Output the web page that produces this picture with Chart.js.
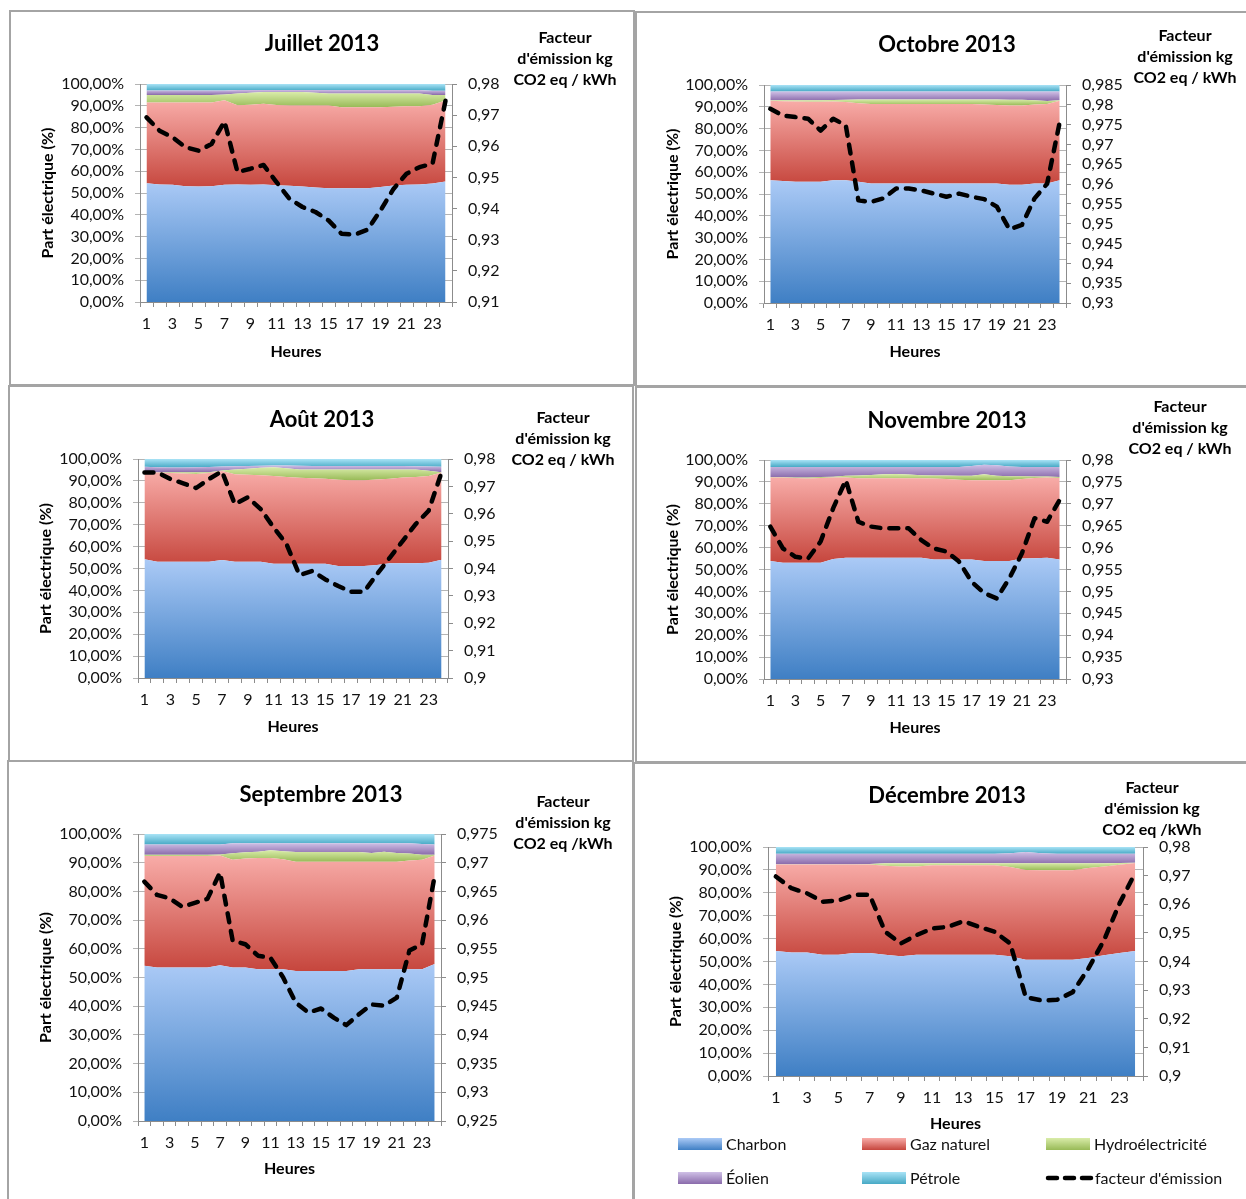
<!DOCTYPE html>
<html lang="fr">
<head>
<meta charset="utf-8">
<title>Part électrique et facteur d'émission horaire 2013</title>
<script src="https://cdn.jsdelivr.net/npm/chart.js@4.4.1/dist/chart.umd.min.js"></script>
<style>
  html, body { margin: 0; padding: 0; background: #fff; }
  body { width: 1246px; height: 1199px; position: relative; overflow: hidden; }
  .panel { position: absolute; box-sizing: border-box; border: 2px solid #a4a4a4; background: #fff; }
  .panel canvas { position: absolute; left: 0; top: 0; }
</style>
</head>
<body>
<script>
const FONT = "Lato, 'Open Sans', sans-serif";
const TEXT = '#111';
const AXIS = '#8c8c8c';
const GRID = '#b4b4b4';

const HEURES = ['1','2','3','4','5','6','7','8','9','10','11','12','13','14','15','16','17','18','19','20','21','22','23','24'];
const SOURCES = ['Charbon', 'Gaz naturel', 'Hydroélectricité', 'Éolien', 'Pétrole'];
const FACTEUR_LABEL = "facteur d'émission";

// [light, dark] gradient stops for each source
const SOURCE_COLORS = [
  ['#abcaf6', '#3f7fc4'],
  ['#f8aca8', '#c6463d'],
  ['#d9eca9', '#98ba57'],
  ['#cfc0e6', '#8a6bab'],
  ['#a9e3f6', '#47a9c5'],
];

// Juillet 2013 (%)
const julCharbon  = [54.5,53.9,53.8,53.1,53.0,53.1,53.8,53.9,53.8,53.9,53.6,53.3,53.0,52.5,52.2,52.2,52.2,52.2,52.7,53.4,53.8,53.9,54.4,55.3];
const julGaz      = [37.0,37.6,37.7,38.4,38.5,38.4,38.7,36.4,36.7,37.0,36.8,36.8,37.1,37.6,37.9,37.1,37.1,37.1,36.6,36.2,36.0,35.9,36.1,37.1];
const julHydro    = [3.5,3.5,3.5,3.5,3.5,3.5,2.7,5.3,5.5,5.4,5.9,6.2,6.2,5.9,5.5,6.3,6.3,6.3,6.3,6.0,5.8,5.8,4.5,2.6];
const julEolien   = [2.0,2.0,2.0,2.0,2.0,2.0,1.8,1.7,1.3,1.0,1.0,1.0,1.0,1.3,1.7,1.7,1.7,1.7,1.7,1.7,1.7,1.7,1.9,1.9];
const julPetrole  = [3.0,3.0,3.0,3.0,3.0,3.0,3.0,2.7,2.7,2.7,2.7,2.7,2.7,2.7,2.7,2.7,2.7,2.7,2.7,2.7,2.7,2.7,3.1,3.1];
const julFacteur  = [0.9693,0.9650,0.9629,0.9597,0.9586,0.9607,0.9680,0.9517,0.9528,0.9540,0.9485,0.9431,0.9405,0.9389,0.9362,0.9319,0.9316,0.9332,0.9394,0.9463,0.9512,0.9533,0.9544,0.9746];
const julAxe      = [0.91, 0.98, 0.01];

// Octobre 2013
const octCharbon  = [56.3,56.0,55.6,55.6,55.6,56.3,56.3,55.6,54.8,54.8,54.8,54.8,54.8,54.8,54.8,54.8,54.8,54.8,54.8,54.3,54.3,54.8,54.8,56.3];
const octGaz      = [36.5,36.6,36.8,36.7,36.7,36.1,35.9,36.0,36.5,36.5,36.5,36.5,36.5,36.5,36.5,36.5,36.5,36.3,36.0,36.3,36.3,36.2,36.5,36.5];
const octHydro    = [0.2,0.4,0.6,0.7,0.7,0.7,1.0,1.8,2.1,2.1,2.1,2.1,2.1,2.1,2.1,2.1,2.1,2.3,2.5,2.6,2.6,2.0,1.4,0.2];
const octEolien   = [4.0,4.0,4.0,4.0,4.0,3.9,3.8,3.6,3.6,3.6,3.6,3.6,3.6,3.6,3.6,3.6,3.6,3.6,3.7,3.8,3.8,4.0,4.3,4.0];
const octPetrole  = [3.0,3.0,3.0,3.0,3.0,3.0,3.0,3.0,3.0,3.0,3.0,3.0,3.0,3.0,3.0,3.0,3.0,3.0,3.0,3.0,3.0,3.0,3.0,3.0];
const octFacteur  = [0.9790,0.9773,0.9769,0.9765,0.9735,0.9765,0.9748,0.9559,0.9555,0.9564,0.9589,0.9589,0.9584,0.9576,0.9568,0.9576,0.9568,0.9562,0.9543,0.9486,0.9497,0.9564,0.9601,0.9756];
const octAxe      = [0.93, 0.985, 0.005];

// Août 2013
const aouCharbon  = [54.2,53.1,53.1,53.1,53.1,53.1,53.9,53.1,53.1,53.1,52.2,52.2,52.2,52.2,52.2,51.1,51.1,51.1,51.6,52.4,52.4,52.4,52.6,54.0];
const aouGaz      = [39.6,40.7,40.5,40.3,40.1,40.5,40.6,39.9,39.7,39.5,40.0,39.6,39.2,39.0,38.8,39.4,39.2,39.2,39.0,38.6,39.1,39.4,39.6,39.8];
const aouHydro    = [0.4,0.2,0.4,0.6,0.8,0.4,0.3,2.2,2.7,3.4,4.0,4.0,3.8,4.0,4.2,4.7,4.9,4.9,4.6,4.2,3.7,3.4,2.4,0.2];
const aouEolien   = [2.3,2.2,2.1,2.1,2.2,2.4,1.8,1.5,1.3,0.9,0.8,1.2,1.7,1.6,1.6,1.6,1.6,1.6,1.6,1.6,1.6,1.5,2.0,2.5];
const aouPetrole  = [3.5,3.8,3.9,3.9,3.8,3.6,3.4,3.3,3.2,3.1,3.0,3.0,3.1,3.2,3.2,3.2,3.2,3.2,3.2,3.2,3.2,3.3,3.4,3.5];
const aouFacteur  = [0.9751,0.9751,0.9727,0.9711,0.9694,0.9727,0.9755,0.9635,0.9660,0.9617,0.9550,0.9489,0.9376,0.9391,0.9360,0.9336,0.9315,0.9315,0.9379,0.9440,0.9501,0.9562,0.9611,0.9751];
const aouAxe      = [0.90, 0.98, 0.01];

// Novembre 2013
const novCharbon  = [53.9,53.1,53.1,53.1,53.1,54.8,55.4,55.4,55.4,55.4,55.4,55.4,55.4,54.6,54.6,54.6,54.6,53.9,53.9,53.9,55.0,55.1,55.4,54.6];
const novGaz      = [38.1,38.9,38.7,38.4,38.7,37.2,36.6,36.3,36.3,36.3,36.3,36.3,36.3,36.9,36.7,36.4,36.2,36.9,36.8,36.9,36.3,36.7,36.6,37.2];
const novHydro    = [0.2,0.2,0.2,0.5,0.4,0.4,0.8,1.2,1.4,1.8,1.9,1.7,1.3,1.4,1.6,1.8,2.0,2.7,2.1,1.8,1.3,0.7,0.5,0.4];
const novEolien   = [4.6,4.6,4.8,4.8,4.6,4.4,4.0,3.9,3.7,3.3,3.2,3.4,3.8,3.9,3.9,4.0,4.5,4.3,4.8,4.4,4.2,4.3,4.3,4.6];
const novPetrole  = [3.2,3.2,3.2,3.2,3.2,3.2,3.2,3.2,3.2,3.2,3.2,3.2,3.2,3.2,3.2,3.2,2.7,2.2,2.4,3.0,3.2,3.2,3.2,3.2];
const novFacteur  = [0.9648,0.9598,0.9579,0.9575,0.9614,0.9690,0.9754,0.9659,0.9648,0.9644,0.9644,0.9644,0.9617,0.9598,0.9591,0.9568,0.9522,0.9496,0.9484,0.9530,0.9587,0.9667,0.9659,0.9709];
const novAxe      = [0.93, 0.98, 0.005];

// Septembre 2013
const sepCharbon  = [54.1,53.5,53.5,53.5,53.5,53.5,54.3,53.5,53.5,52.9,52.9,52.9,52.3,52.3,52.3,52.3,52.3,52.9,52.9,52.9,52.9,52.9,52.9,54.7];
const sepGaz      = [38.2,38.8,38.8,38.8,38.8,38.8,38.2,37.5,38.0,38.7,38.7,38.3,38.0,38.0,38.0,38.0,38.0,37.4,37.4,37.4,37.4,37.9,38.1,37.8];
const sepHydro    = [0.5,0.5,0.5,0.5,0.5,0.5,0.4,2.3,2.1,2.2,2.7,2.8,3.4,3.4,3.4,3.4,3.4,3.4,3.1,3.5,3.1,2.4,1.8,0.3];
const sepEolien   = [3.5,3.5,3.5,3.5,3.5,3.5,3.4,3.5,3.2,3.0,2.5,2.8,3.1,3.1,3.1,3.1,3.1,3.1,3.4,3.0,3.4,3.6,3.7,3.5];
const sepPetrole  = [3.7,3.7,3.7,3.7,3.7,3.7,3.7,3.2,3.2,3.2,3.2,3.2,3.2,3.2,3.2,3.2,3.2,3.2,3.2,3.2,3.2,3.2,3.5,3.7];
const sepFacteur  = [0.9667,0.9644,0.9638,0.9623,0.9630,0.9637,0.9683,0.9564,0.9558,0.9538,0.9534,0.9500,0.9456,0.9439,0.9446,0.9430,0.9417,0.9436,0.9453,0.9451,0.9465,0.9547,0.9558,0.9677];
const sepAxe      = [0.925, 0.975, 0.005];

// Décembre 2013
const decCharbon  = [54.6,53.9,53.9,53.0,53.0,53.7,53.7,53.0,52.3,53.0,53.0,53.0,53.0,53.0,53.0,52.3,50.8,50.8,50.8,50.8,51.5,52.7,53.7,54.6];
const decGaz      = [37.8,38.5,38.5,39.4,39.4,38.7,38.7,38.8,39.2,38.5,39.0,39.0,39.0,39.0,39.0,39.0,39.2,39.0,39.0,39.0,39.3,38.8,38.6,38.4];
const decHydro    = [0.1,0.1,0.1,0.1,0.1,0.1,0.2,1.1,1.4,1.4,0.9,0.9,0.9,0.9,0.9,1.6,2.9,3.1,3.1,3.1,2.1,1.4,0.7,0.1];
const decEolien   = [4.5,4.5,4.5,4.5,4.5,4.5,4.4,4.1,4.1,4.1,4.1,4.1,4.1,4.1,4.1,4.4,4.9,4.4,4.1,4.1,4.1,4.1,4.0,3.9];
const decPetrole  = [3.0,3.0,3.0,3.0,3.0,3.0,3.0,3.0,3.0,3.0,3.0,3.0,3.0,3.0,3.0,2.7,2.2,2.7,3.0,3.0,3.0,3.0,3.0,3.0];
const decFacteur  = [0.9697,0.9656,0.9638,0.9609,0.9613,0.9633,0.9633,0.9504,0.9463,0.9492,0.9515,0.9521,0.9541,0.9521,0.9504,0.9463,0.9275,0.9264,0.9266,0.9293,0.9375,0.9474,0.9603,0.9709];
const decAxe      = [0.90, 0.98, 0.01];

// page layout of each chart: box = frame [x, y, w, h], area = plot [left, top, right, bottom]
const PANELS = [
  { titre: 'Juillet 2013', unite: 'CO2 eq / kWh', series: [julCharbon, julGaz, julHydro, julEolien, julPetrole], facteur: julFacteur, axe: julAxe,
    box: [9, 10, 626, 376], area: [140, 84, 452, 302], titleAt: [322, 44], unitAt: [565, 38], yTitleX: 48, xTitleY: 352 },
  { titre: 'Octobre 2013', unite: 'CO2 eq / kWh', series: [octCharbon, octGaz, octHydro, octEolien, octPetrole], facteur: octFacteur, axe: octAxe,
    box: [635, 11, 625, 376], area: [764, 85, 1066, 303], titleAt: [947, 45], unitAt: [1185, 36], yTitleX: 673, xTitleY: 352 },
  { titre: 'Août 2013', unite: 'CO2 eq / kWh', series: [aouCharbon, aouGaz, aouHydro, aouEolien, aouPetrole], facteur: aouFacteur, axe: aouAxe,
    box: [8, 385, 626, 377], area: [138, 459, 448, 678], titleAt: [322, 420], unitAt: [563, 418], yTitleX: 46, xTitleY: 727 },
  { titre: 'Novembre 2013', unite: 'CO2 eq / kWh', series: [novCharbon, novGaz, novHydro, novEolien, novPetrole], facteur: novFacteur, axe: novAxe,
    box: [635, 386, 625, 377], area: [764, 460, 1066, 679], titleAt: [947, 421], unitAt: [1180, 407], yTitleX: 673, xTitleY: 728 },
  { titre: 'Septembre 2013', unite: 'CO2 eq /kWh', series: [sepCharbon, sepGaz, sepHydro, sepEolien, sepPetrole], facteur: sepFacteur, axe: sepAxe,
    box: [7, 760, 627, 450], area: [138, 834, 441, 1121], titleAt: [321, 795], unitAt: [563, 802], yTitleX: 46, xTitleY: 1169 },
  { titre: 'Décembre 2013', unite: 'CO2 eq /kWh', series: [decCharbon, decGaz, decHydro, decEolien, decPetrole], facteur: decFacteur, axe: decAxe,
    box: [633, 762, 625, 450], area: [768, 847, 1143, 1076], titleAt: [947, 796], unitAt: [1152, 788], yTitleX: 676, xTitleY: 1124,
    legend: { rows: [1144, 1178], cols: [678, 862, 1046] } },
];

// vertical gradient spanning the band a stacked series occupies
function bandGradient(light, dark) {
  return ctx => {
    const chart = ctx.chart;
    if (!chart.chartArea) return dark;
    const sets = chart.data.datasets;
    const idx = ctx.datasetIndex;
    let lo = Infinity, hi = -Infinity;
    for (let h = 0; h < chart.data.labels.length; h++) {
      let base = 0;
      for (let k = 0; k < idx; k++) base += sets[k].data[h];
      lo = Math.min(lo, base);
      hi = Math.max(hi, base + sets[idx].data[h]);
    }
    const y = chart.scales.y;
    const g = chart.ctx.createLinearGradient(0, y.getPixelForValue(hi), 0, y.getPixelForValue(lo));
    g.addColorStop(0, light);
    g.addColorStop(1, dark);
    return g;
  };
}

function textPlugin(p, ox, oy) {
  return {
    id: 'panelText',
    afterDraw(chart) {
      const c = chart.ctx;
      c.save();
      c.fillStyle = '#000';
      c.textAlign = 'center';
      c.textBaseline = 'middle';
      c.font = `bold 22px ${FONT}`;
      c.fillText(p.titre, p.titleAt[0] - ox, p.titleAt[1] - oy);
      c.font = `bold 16px ${FONT}`;
      ['Facteur', "d'émission kg", p.unite].forEach((t, i) => {
        c.fillText(t, p.unitAt[0] - ox, p.unitAt[1] - oy + i * 21);
      });
      if (p.legend) drawLegend(chart, c, p.legend, ox, oy);
      c.restore();
    }
  };
}

function drawLegend(chart, c, lg, ox, oy) {
  const sets = chart.data.datasets;
  c.textAlign = 'left';
  c.font = `16px ${FONT}`;
  [0, 1, 2, 3, 4, 5].forEach(i => {
    const x = lg.cols[i % 3] - ox;
    const y = lg.rows[Math.floor(i / 3)] - oy;
    if (i < 5) {
      const g = c.createLinearGradient(0, y - 6, 0, y + 6);
      g.addColorStop(0, SOURCE_COLORS[i][0]);
      g.addColorStop(1, SOURCE_COLORS[i][1]);
      c.fillStyle = g;
      c.fillRect(x, y - 6, 44, 12);
      c.fillStyle = TEXT;
      c.fillText(sets[i].label, x + 48, y + 1);
    } else {
      c.save();
      c.strokeStyle = '#000';
      c.lineWidth = 4.5;
      c.lineCap = 'round';
      c.setLineDash([9, 8]);
      c.beginPath();
      c.moveTo(x + 2, y);
      c.lineTo(x + 47, y);
      c.stroke();
      c.restore();
      c.fillStyle = TEXT;
      c.fillText(sets[5].label, x + 49, y + 1);
    }
  });
}

const fmtPct = v => v.toFixed(2).replace('.', ',') + '%';
const fmtFact = v => String(+v.toFixed(3)).replace('.', ',');

function buildPanel(p) {
  const wrap = document.createElement('div');
  wrap.className = 'panel';
  wrap.style.left = p.box[0] + 'px';
  wrap.style.top = p.box[1] + 'px';
  wrap.style.width = p.box[2] + 'px';
  wrap.style.height = p.box[3] + 'px';
  const canvas = document.createElement('canvas');
  const ox = p.box[0] + 2, oy = p.box[1] + 2;
  const cw = p.box[2] - 4, ch = p.box[3] - 4;
  canvas.width = cw;
  canvas.height = ch;
  wrap.appendChild(canvas);
  document.body.appendChild(wrap);

  const L = p.area[0] - ox, T = p.area[1] - oy, R = p.area[2] - ox, B = p.area[3] - oy;
  const LH = 16 * 1.2;
  const rightW = 72;
  const xH = (p.xTitleY - oy) - B + LH / 2;
  const tickFont = { family: FONT, size: 16 };
  const titleFont = { family: FONT, size: 16, weight: 'bold' };

  const areas = p.series.map((data, i) => ({
    label: SOURCES[i],
    data,
    yAxisID: 'y',
    fill: i === 0 ? 'origin' : '-1',
    backgroundColor: bandGradient(SOURCE_COLORS[i][0], SOURCE_COLORS[i][1]),
    borderColor: 'transparent',
    borderWidth: 0,
    pointRadius: 0,
    order: 1,
  }));

  const ligne = {
    label: FACTEUR_LABEL,
    data: p.facteur,
    yAxisID: 'y1',
    fill: false,
    borderColor: '#000',
    borderWidth: 4.5,
    borderDash: [9, 9],
    borderCapStyle: 'round',
    borderJoinStyle: 'round',
    pointRadius: 0,
    order: -1,
  };

  new Chart(canvas, {
    type: 'line',
    data: { labels: HEURES, datasets: [...areas, ligne] },
    options: {
      responsive: false,
      animation: false,
      layout: { padding: { left: 0, top: T, right: cw - R - rightW, bottom: ch - B - xH } },
      elements: { line: { tension: 0 } },
      plugins: { legend: { display: false }, tooltip: { enabled: false }, title: { display: false } },
      scales: {
        x: {
          offset: true,
          grid: { offset: true, drawOnChartArea: false, tickLength: 5, color: AXIS },
          border: { color: AXIS, width: 1 },
          ticks: { autoSkip: false, maxRotation: 0, padding: 7, font: tickFont, color: TEXT,
                   callback: (v, i) => (i % 2 === 0 ? HEURES[i] : '') },
          title: { display: true, text: 'Heures', font: titleFont, color: '#000', padding: { top: 0, bottom: 0 } },
          afterFit: s => { s.height = xH; },
        },
        y: {
          stacked: true,
          min: 0,
          max: 100,
          grid: { color: GRID, tickLength: 5 },
          border: { color: AXIS, width: 1 },
          ticks: { stepSize: 10, autoSkip: false, padding: 11, font: tickFont, color: TEXT, callback: fmtPct },
          title: { display: true, text: 'Part électrique (%)', font: titleFont, color: '#000',
                   padding: { top: (p.yTitleX - ox) - LH / 2, bottom: 0 } },
          afterFit: s => { s.width = L; },
        },
        y1: {
          position: 'right',
          min: p.axe[0],
          max: p.axe[1],
          grid: { drawOnChartArea: false, tickLength: 5, color: AXIS },
          border: { color: AXIS, width: 1 },
          ticks: { stepSize: p.axe[2], autoSkip: false, padding: 11, font: tickFont, color: TEXT, callback: fmtFact },
          afterFit: s => { s.width = rightW; },
        },
      },
    },
    plugins: [textPlugin(p, ox, oy)],
  });
}

PANELS.forEach(buildPanel);
</script>
</body>
</html>
